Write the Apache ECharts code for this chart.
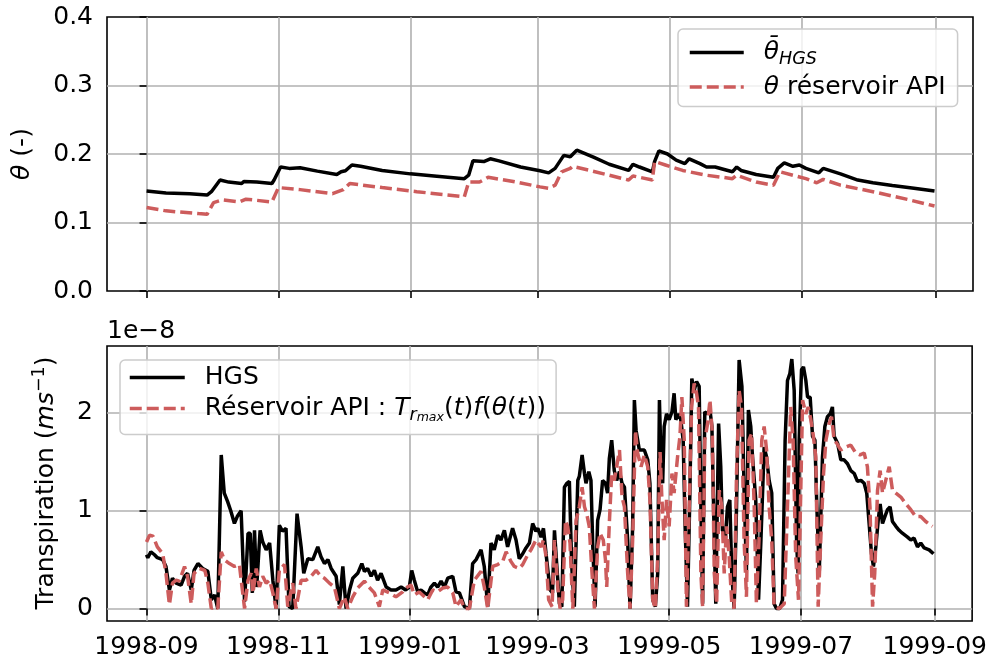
<!DOCTYPE html>
<html><head><meta charset="utf-8">
<script src="https://cdn.jsdelivr.net/npm/echarts@6/dist/echarts.min.js"></script>
<style>html,body{margin:0;padding:0;background:#fff}#c{width:990px;height:666px}</style>
</head><body><div id="c"></div>
<script>
// ---------------- DATA ----------------
// x values are days counted from 1998-09-01
const monthTickLabels = ['1998-09','1998-11','1999-01','1999-03','1999-05','1999-07','1999-09'];
const thetaTicks = [0.0, 0.1, 0.2, 0.3, 0.4];
const transpTicks = [0, 1, 2];          // units of 1e-8 m/s
const xRange = [-18.3, 382.3];          // days (matplotlib 5% margins)
const transpRange = [-0.127, 2.683];    // 1e-8 m/s

const thetaHgsDays = [0,9,20,28,30,34,38,44,45,51,58,59,62,66,71,79,88,90,92,95,99,109,122,133,147,149,151,156,159,163,173,182,186,189,193,196,199,207,214,223,225,228,234,235,237,241,245,249,251,256,259,263,271,273,275,282,290,292,295,299,302,305,311,313,321,329,336,345,355,364.5];
const thetaHgsValues = [0.146,0.143,0.142,0.140,0.145,0.162,0.159,0.157,0.160,0.159,0.157,0.162,0.181,0.179,0.180,0.175,0.170,0.174,0.1755,0.184,0.182,0.176,0.171,0.168,0.164,0.169,0.190,0.189,0.193,0.190,0.181,0.1755,0.1725,0.179,0.198,0.196,0.2056,0.195,0.185,0.176,0.185,0.181,0.174,0.189,0.2046,0.200,0.191,0.186,0.193,0.186,0.181,0.181,0.174,0.181,0.176,0.170,0.166,0.179,0.187,0.182,0.184,0.179,0.1725,0.179,0.171,0.162,0.158,0.154,0.150,0.146];

const thetaApiDays = [0,9,24,28,31,35,43,46,58,61,71,86,91,94,109,125,147,149,154,158,171,182,186,189,192,196,197,205,214,223,225,234,235,240,248,259,271,273,282,290,293,299,305,310,313,321,336,352,364.5];
const thetaApiValues = [0.122,0.117,0.113,0.112,0.129,0.133,0.130,0.134,0.130,0.151,0.148,0.142,0.148,0.157,0.151,0.145,0.1375,0.159,0.159,0.166,0.159,0.152,0.150,0.1545,0.174,0.179,0.182,0.176,0.169,0.162,0.168,0.162,0.189,0.184,0.176,0.169,0.164,0.169,0.159,0.1545,0.174,0.169,0.164,0.158,0.163,0.1545,0.145,0.1337,0.124];

// [day, transpiration (1e-8 m/s)]
const transpHgs = [
[0,0.55],[0.6,0.52],[2,0.58],[3.7,0.55],[5,0.52],[7.5,0.50],[9,0.43],[10.6,0.19],[12,0.31],[13.7,0.26],
[16,0.24],[17.6,0.33],[19,0.36],[20.7,0.19],[22,0.39],[23.8,0.46],[26,0.41],[28.4,0.38],[30,0.09],[31.5,0.14],
[33,0.0],[34.6,1.57],[36,1.18],[37.6,1.09],[39,1.0],[40.7,0.87],[42,0.94],[43.8,1.0],[45.4,0.07],[47,0.77],
[48,0.77],[49,0.16],[50,0.80],[51,0.22],[52.6,0.80],[53.8,0.68],[55.4,0.60],[57,0.67],[58.5,0.29],[60,0.0],
[61.5,0.85],[63,0.79],[64.6,0.82],[66,0.02],[67.7,0.0],[69.7,0.97],[71.6,0.63],[72.8,0.36],[74.7,0.51],[77,0.50],
[79.3,0.63],[80.8,0.53],[82.4,0.46],[84,0.50],[85.5,0.41],[87.8,0.33],[89.3,0.04],[90.9,0.43],[92.4,0.0],[94,0.19],
[95.5,0.31],[97.8,0.36],[99.7,0.46],[100.9,0.38],[102.4,0.41],[104,0.33],[105.5,0.39],[107,0.29],[108.6,0.36],[111,0.22],
[113.2,0.19],[115.5,0.19],[117.9,0.22],[120,0.19],[121.7,0.22],[122.8,0.39],[124,0.29],[125.6,0.17],[127.1,0.19],[128.7,0.16],
[130.2,0.14],[131.7,0.22],[133.3,0.26],[134.8,0.22],[136.4,0.28],[137.9,0.22],[139.5,0.31],[141.8,0.33],[143.3,0.17],[144.9,0.16],
[147.2,0.02],[149.5,0.0],[151,0.46],[152.6,0.50],[154.9,0.60],[156.4,0.43],[158,0.02],[159.5,0.67],[161,0.60],[162.6,0.75],
[164.1,0.70],[165.7,0.80],[167.2,0.63],[169.5,0.82],[171.1,0.70],[172.6,0.51],[174.2,0.56],[175.7,0.62],[177.3,0.67],[178.8,0.87],
[180.3,0.79],[181.2,0.82],[182.7,0.73],[183.8,0.82],[185,0.56],[186,0.36],[186.9,0.19],[188,0.16],[188.9,0.80],[190,0.43],
[191.2,0.05],[192.3,0.02],[193.5,1.24],[194.6,1.28],[195.8,1.30],[196.9,0.43],[198.1,0.02],[199.7,1.31],[200.4,1.35],[201.7,1.57],
[202.8,1.38],[203.5,1.28],[204.8,1.40],[205.8,1.31],[206.6,0.67],[207.7,0.02],[208.9,0.90],[210,1.01],[211.2,1.31],[212.5,1.28],
[213.5,1.18],[214.3,1.53],[215.4,1.72],[216.6,1.41],[217.7,1.31],[219,1.40],[220.2,1.28],[221.3,1.24],[222.8,0.70],[223.9,0.0],
[225.1,0.84],[225.9,2.13],[226.7,1.82],[228.2,1.62],[230.5,1.62],[232.1,1.52],[233.1,1.28],[234.4,0.09],[235.6,0.02],[236.7,0.36],
[237.5,2.13],[238.2,1.55],[239,1.28],[239.7,1.86],[240.8,1.99],[242,1.93],[243.3,2.01],[244.3,2.20],[245.1,1.93],[246.3,1.99],
[247.4,1.93],[248.5,1.72],[249.4,0.84],[250.5,0.02],[251.6,1.18],[252.5,2.35],[253.6,2.23],[254.7,2.32],[255.9,2.27],[256.7,1.04],
[257.5,0.05],[258.5,2.01],[259.8,1.99],[260.9,2.03],[261.8,1.86],[262.9,0.70],[263.6,0.05],[264.9,1.89],[265.9,1.45],[266.7,0.80],
[268,0.70],[269,1.04],[270.1,1.11],[271,0.36],[272.1,0.0],[273.2,1.04],[274.4,2.54],[275.7,2.27],[276.7,1.21],[277.8,0.39],
[278.7,2.03],[279.8,1.86],[280.6,1.55],[282.1,1.11],[283.4,0.09],[284.5,0.70],[286,1.65],[287.1,1.55],[288.3,1.31],[289.5,1.18],
[290.6,0.05],[291.7,0.0],[293.2,0.0],[294.5,0.09],[295.7,1.72],[296.8,2.33],[297.9,2.40],[298.8,2.55],[299.9,2.23],[301,0.70],
[301.7,0.36],[302.2,1.72],[303.3,2.44],[304.2,2.47],[305.3,2.33],[306.1,2.16],[307.3,2.16],[308.4,1.76],[309.5,1.72],[310.4,1.04],
[311.5,0.36],[312.3,0.36],[313,1.55],[314.1,1.86],[315.3,1.96],[316.6,1.99],[317.6,2.06],[318.4,1.76],[320,1.69],[321.5,1.52],
[323,1.52],[324.6,1.48],[326.1,1.41],[327.7,1.38],[329.2,1.30],[330.8,1.31],[332.3,1.28],[333.5,1.18],[334.6,0.87],[335.7,0.56],
[336.6,0.43],[337.7,0.63],[338.8,0.90],[339.7,1.07],[340.8,0.87],[341.9,0.94],[343.1,1.01],[344.3,1.04],[345.4,0.89],[347,0.84],
[348.5,0.80],[350,0.77],[352.4,0.73],[353.9,0.70],[355.4,0.72],[357,0.63],[358.5,0.67],[360.1,0.62],[362.4,0.60],[364.4,0.56]
];

const transpApi = [
[0,0.68],[1.4,0.75],[3,0.74],[5,0.63],[7.5,0.56],[9,0.36],[10.6,0.04],[12,0.26],[13.7,0.29],[15.2,0.28],
[17.6,0.43],[19,0.33],[20.7,0.05],[22,0.36],[24.5,0.41],[27,0.39],[28.4,0.26],[30,0.0],[31.5,0.02],[33,0.0],
[34.6,0.58],[36,0.50],[38.4,0.46],[40.7,0.43],[43,0.45],[45.4,0.0],[47,0.29],[48.5,0.36],[49.3,0.16],[50.8,0.41],
[52.3,0.22],[53.8,0.33],[55.4,0.26],[57,0.29],[58.5,0.16],[60,0.0],[61.5,0.39],[63.9,0.45],[65.4,0.02],[67.7,0.26],
[69.2,0.0],[71.6,0.29],[73.9,0.29],[76.2,0.33],[78.5,0.39],[80.8,0.33],[82.4,0.31],[84.7,0.26],[87,0.22],[89.3,0.0],
[91.6,0.12],[93.2,0.0],[95.5,0.12],[97.8,0.21],[100.9,0.28],[103,0.22],[105.5,0.16],[107.8,0.02],[109.4,0.19],[112.5,0.16],
[115.5,0.12],[118.6,0.17],[120,0.21],[122.5,0.24],[124,0.14],[126.3,0.17],[128.7,0.12],[130.2,0.09],[132.5,0.19],[134.8,0.17],
[137.1,0.21],[139.5,0.22],[141.8,0.16],[143.3,0.02],[145.6,0.09],[147.2,0.0],[149.5,0.0],[151.8,0.29],[154.9,0.38],[156.4,0.22],
[158,0.0],[160.3,0.43],[162.6,0.45],[164.9,0.48],[166.5,0.58],[168.8,0.48],[170.3,0.43],[172.6,0.41],[174.2,0.45],[176.5,0.55],
[178,0.60],[180.3,0.70],[181.2,0.67],[182.7,0.63],[183.8,0.70],[185,0.53],[186.2,0.09],[187.8,0.02],[188.9,0.70],[190.4,0.22],
[191.5,0.0],[192.7,0.09],[194,0.90],[195,0.84],[196.1,0.67],[197.4,0.0],[198.9,0.90],[200.4,1.04],[201.7,1.24],[202.8,1.04],
[203.8,0.97],[205,0.84],[206.3,0.36],[207.4,0.0],[208.9,0.63],[210,0.77],[211.5,0.70],[212.5,0.50],[213.1,0.22],[214.3,0.87],
[215.4,1.38],[216.6,1.31],[217.7,1.45],[219,1.62],[220.2,1.14],[221.3,1.04],[222.8,0.36],[223.9,0.0],[225.1,0.70],[226.4,1.82],
[227.4,1.59],[229,1.45],[230.5,1.57],[232.1,1.45],[233.1,1.11],[234.4,0.09],[235.6,0.0],[236.7,0.53],[237.8,1.6],[238.6,1.14],
[239.7,0.70],[240.8,1.11],[242,0.84],[243.3,1.38],[244.3,1.18],[245.9,1.55],[247,1.76],[247.9,2.16],[249,1.72],[250,0.02],
[251.3,1.04],[252.4,2.06],[253.6,2.30],[254.7,2.20],[255.6,2.06],[256.7,0.36],[257.5,0.02],[258.5,1.72],[259.8,1.89],[260.9,2.13],
[262,1.79],[262.9,0.36],[264,0.05],[265.2,1.21],[266.4,1.04],[267.5,0.36],[268.6,0.84],[269.8,0.53],[271,0.05],[272.1,0.0],
[273.2,1.38],[274.4,2.23],[275.5,2.06],[276.7,0.70],[277.8,0.12],[279,1.72],[280.2,1.79],[281.4,1.04],[282.4,0.05],[283.6,0.70],
[284.9,1.72],[286,1.86],[287.1,1.62],[288.3,1.04],[289.5,0.70],[290.6,0.02],[293,0.0],[295.3,0.05],[296.8,1.04],[298.3,2.06],
[299.4,1.72],[300.6,0.53],[301.9,0.09],[302.8,1.04],[303.8,2.13],[305.3,1.99],[306.4,2.06],[307.6,1.93],[308.8,1.76],[309.9,1.55],
[311,0.02],[312.2,0.70],[313.5,1.38],[314.6,1.72],[316.1,1.89],[317.2,1.96],[318.4,1.72],[319.6,1.69],[321.5,1.62],[323.8,1.65],
[326.1,1.67],[328.4,1.59],[330.4,1.57],[332.3,1.59],[333.8,1.45],[335,1.04],[336.2,0.02],[337.2,0.36],[338.5,1.21],[339.7,1.41],
[340.8,1.18],[342.3,1.31],[343.9,1.45],[345.4,1.21],[347,1.18],[349.3,1.14],[351.6,1.07],[353.9,1.01],[356.2,0.94],[358.5,0.94],
[360.8,0.89],[363.9,0.84]
];

// ---------------- CHART ----------------
const FONT = 'DejaVu Sans';
const FS = 25;
const RED = '#cd5c5c';
const GRIDC = '#b0b0b0';
const LW = 3.5;
const DASH = [12, 5];

function dayOf(label) {
  const [y, m] = label.split('-').map(Number);
  return Math.round((Date.UTC(y, m - 1, 1) - Date.UTC(1998, 8, 1)) / 86400000);
}
const monthTickDays = monthTickLabels.map(dayOf);
const labelOfDay = v => { const i = monthTickDays.indexOf(Math.round(v)); return i >= 0 ? monthTickLabels[i] : ''; };

const rich = {
  n:   {fontFamily: FONT, fontSize: FS, color: '#000', lineHeight: 32},
  it:  {fontFamily: FONT, fontSize: FS, fontStyle: 'italic', color: '#000', lineHeight: 32},
  sub: {fontFamily: FONT, fontSize: 17.5, fontStyle: 'italic', color: '#000', lineHeight: 17.5, verticalAlign: 'bottom'},
  subr:{fontFamily: FONT, fontSize: 17.5, fontStyle: 'italic', color: '#000', lineHeight: 22, verticalAlign: 'bottom'},
  sub2:{fontFamily: FONT, fontSize: 12.5, fontStyle: 'italic', color: '#000', lineHeight: 9, verticalAlign: 'bottom'}
};
const legendText = {
  thetaHGS: '{it|\u03b8\u0304}{sub|HGS}',
  thetaAPI: '{it|\u03b8}{n| réservoir API}',
  HGS: '{n|HGS}',
  API: '{n|Réservoir API : }{it|T}{subr|r}{sub2|max}{n|(}{it|t}{n|)}{it|f}{n|(}{it|\u03b8}{n|(}{it|t}{n|))}'
};

function xAxis(gridIndex, showLabels) {
  return {
    type: 'value', gridIndex, min: xRange[0], max: xRange[1],
    axisLine: {show: false},
    axisTick: {show: true, customValues: monthTickDays, length: 7, lineStyle: {color: '#000', width: 1.6}},
    axisLabel: {show: showLabels, customValues: monthTickDays, formatter: labelOfDay, margin: 14,
                color: '#000', fontSize: FS, fontFamily: FONT},
    splitLine: {show: true, lineStyle: {color: GRIDC, width: 1.6}}
  };
}

function legendBox(data, left, top, padding, itemWidth) {
  return {data, orient: 'vertical', left, top, padding, itemWidth, itemHeight: 1, itemGap: 6, selectedMode: false,
    backgroundColor: 'rgba(255,255,255,0.8)', borderColor: '#cccccc', borderWidth: 1.5, borderRadius: 5,
    itemStyle: {borderWidth: 0}, lineStyle: {width: LW},
    formatter: n => legendText[n], textStyle: {padding: [0, 0, 0, 15], rich}};
}

const option = {
  animation: false,
  backgroundColor: '#fff',
  grid: [
    {left: 107, top: 17, width: 866, height: 274, show: true, borderColor: '#000', borderWidth: 1.6, backgroundColor: 'transparent'},
    {left: 107, top: 346, width: 866, height: 275, show: true, borderColor: '#000', borderWidth: 1.6, backgroundColor: 'transparent'}
  ],
  xAxis: [xAxis(0, false), xAxis(1, true)],
  yAxis: [
    {type: 'value', gridIndex: 0, min: thetaTicks[0], max: thetaTicks[thetaTicks.length - 1], interval: 0.1,
     axisLine: {show: false},
     axisTick: {show: true, length: 7, lineStyle: {color: '#000', width: 1.6}},
     axisLabel: {formatter: v => v.toFixed(1), margin: 14, color: '#000', fontSize: FS, fontFamily: FONT},
     splitLine: {show: true, showMinLine: false, showMaxLine: false, lineStyle: {color: GRIDC, width: 1.6}}},
    {type: 'value', gridIndex: 1, min: transpRange[0], max: transpRange[1],
     axisLine: {show: false},
     axisTick: {show: true, customValues: transpTicks, length: 7, lineStyle: {color: '#000', width: 1.6}},
     axisLabel: {customValues: transpTicks, formatter: v => String(Math.round(v)), margin: 14, color: '#000', fontSize: FS, fontFamily: FONT},
     splitLine: {show: true, lineStyle: {color: GRIDC, width: 1.6}}}
  ],
  legend: [
    legendBox(['thetaHGS', 'thetaAPI'], 678, 29, [11, 12, 7, 10], 54),
    legendBox(['HGS', 'API'], 120, 360, [5, 10, 10, 8], 55)
  ],
  graphic: [
    {type: 'text', x: 22, y: 154, rotation: Math.PI / 2,
     style: {text: '{it|\u03b8}{n| (-)}', rich, align: 'center', verticalAlign: 'middle'}},
    {type: 'text', x: 46, y: 483, rotation: Math.PI / 2,
     style: {text: '{n|Transpiration (}{it|ms}{sup|\u22121}{n|)}', align: 'center', verticalAlign: 'middle',
       rich: Object.assign({}, rich, {sup: {fontFamily: FONT, fontSize: 17.5, fill: '#000', lineHeight: 19.5, verticalAlign: 'top'}})}},
    {type: 'text', x: 107, y: 331,
     style: {text: '1e\u22128', fontFamily: FONT, fontSize: FS, fill: '#000', align: 'left', verticalAlign: 'middle'}}
  ],
  series: [
    {type: 'line', name: 'thetaHGS', xAxisIndex: 0, yAxisIndex: 0, symbol: 'none', silent: true,
     data: thetaHgsDays.map((d, i) => [d, thetaHgsValues[i]]),
     lineStyle: {color: '#000', width: LW}, itemStyle: {color: '#000'}},
    {type: 'line', name: 'thetaAPI', xAxisIndex: 0, yAxisIndex: 0, symbol: 'none', silent: true,
     data: thetaApiDays.map((d, i) => [d, thetaApiValues[i]]),
     lineStyle: {color: RED, width: LW, type: DASH}, itemStyle: {color: RED}},
    {type: 'line', name: 'HGS', xAxisIndex: 1, yAxisIndex: 1, symbol: 'none', silent: true,
     data: transpHgs, lineStyle: {color: '#000', width: LW}, itemStyle: {color: '#000'}},
    {type: 'line', name: 'API', xAxisIndex: 1, yAxisIndex: 1, symbol: 'none', silent: true,
     data: transpApi, lineStyle: {color: RED, width: LW, type: DASH}, itemStyle: {color: RED}}
  ]
};

const chart = echarts.init(document.getElementById('c'), null, {renderer: 'canvas'});
chart.setOption(option);
</script>
</body></html>
